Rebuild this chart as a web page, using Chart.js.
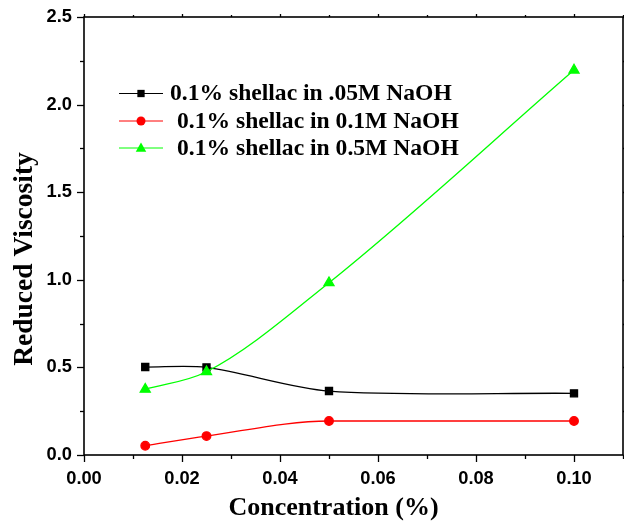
<!DOCTYPE html>
<html><head><meta charset="utf-8">
<script src="https://cdn.jsdelivr.net/npm/chart.js@4/dist/chart.umd.min.js"></script>
<style>html,body{margin:0;padding:0;background:#fff;}#wrap{width:624px;height:525px;position:relative;}</style>
</head><body><div id="wrap"><canvas id="c" width="624" height="525"></canvas></div>
<script>
// ---- data ----
const concentration = [0.0125, 0.025, 0.05, 0.1];
const visc005M = [0.502, 0.500, 0.365, 0.352];
const visc01M  = [0.053, 0.108, 0.194, 0.194];
const visc05M  = [0.375, 0.475, 0.983, 2.197];
const seriesLabels = ['0.1% shellac in .05M NaOH', '0.1% shellac in 0.1M NaOH', '0.1% shellac in 0.5M NaOH'];
const xTitle = 'Concentration (%)';
const yTitle = 'Reduced Viscosity';

const pts = ys => concentration.map((x, i) => ({x, y: ys[i]}));
const SERIF = '"Liberation Serif", "Times New Roman", serif';
const SANS = '"Liberation Sans", Arial, sans-serif';

function marker(ctx, style, x, y, color, s) {
  ctx.fillStyle = color;
  ctx.beginPath();
  if (style === 'rect') { ctx.rect(x - s / 2, y - s / 2, s, s); }
  else if (style === 'circle') { ctx.arc(x, y, s / 2, 0, Math.PI * 2); }
  else { const h = s * 0.87; ctx.moveTo(x, y - h * 0.6); ctx.lineTo(x + s / 2, y + h * 0.4); ctx.lineTo(x - s / 2, y + h * 0.4); ctx.closePath(); }
  ctx.fill();
}

const framePlugin = {
  id: 'frame',
  afterDraw(chart) {
    const {ctx, chartArea: a, scales: {x, y}} = chart;
    ctx.save();
    ctx.strokeStyle = '#000';
    ctx.lineWidth = 1.6;
    ctx.strokeRect(a.left, a.top, a.right - a.left, a.bottom - a.top);
    ctx.lineWidth = 1.3;
    const seg = (x1, y1, x2, y2) => { ctx.beginPath(); ctx.moveTo(x1, y1); ctx.lineTo(x2, y2); ctx.stroke(); };
    x.ticks.forEach(t => {
      const px = Math.round(x.getPixelForValue(t.value)) + 0.5;
      const major = t.label !== '';
      seg(px, a.bottom, px, a.bottom + (major ? 7 : 4));
      seg(px, a.top, px, a.top - (major ? 3 : 2));
    });
    y.ticks.forEach(t => {
      const py = Math.round(y.getPixelForValue(t.value)) + 0.5;
      const major = t.label !== '';
      seg(a.left, py, a.left - (major ? 7 : 4), py);
      seg(a.right, py, a.right + (major ? 3 : 2), py);
    });
    // axis titles
    ctx.fillStyle = '#000';
    ctx.font = 'bold 26px ' + SERIF;
    ctx.textAlign = 'center';
    ctx.textBaseline = 'alphabetic';
    ctx.fillText(xTitle, 333.5, 515);
    ctx.save();
    ctx.translate(31.5, 259);
    ctx.rotate(-Math.PI / 2);
    ctx.font = 'bold 27.5px ' + SERIF;
    ctx.fillText(yTitle, 0, 0);
    ctx.restore();
    // legend
    const rows = [100, 127.5, 154.5];
    const textX = [170, 177, 177];
    const sizes = [7.3, 9, 10.5];
    chart.data.datasets.forEach((ds, i) => {
      const my = rows[i] - 6.5;
      ctx.strokeStyle = ds.borderColor;
      ctx.lineWidth = 1;
      seg(119, my, 163, my);
      marker(ctx, ds.pointStyle, 141, my, ds.backgroundColor, sizes[i]);
      ctx.fillStyle = '#000';
      ctx.font = 'bold 23.6px ' + SERIF;
      ctx.textAlign = 'left';
      ctx.fillText(ds.label, textX[i], rows[i]);
    });
    ctx.restore();
  }
};

new Chart(document.getElementById('c'), {
  type: 'line',
  data: {
    datasets: [
      {label: seriesLabels[0], data: pts(visc005M), borderColor: '#000000', backgroundColor: '#000000',
       pointStyle: 'rect', pointRadius: 5, borderWidth: 1.3, order: 2,
       cubicInterpolationMode: 'default', tension: 0.3},
      {label: seriesLabels[1], data: pts(visc01M), borderColor: '#ff0000', backgroundColor: '#ff0000',
       pointStyle: 'circle', pointRadius: 4.3, borderWidth: 1.3, order: 1},
      {label: seriesLabels[2], data: pts(visc05M), borderColor: '#00ff00', backgroundColor: '#00ff00',
       pointStyle: 'triangle', pointRadius: 5.8, borderWidth: 1.3, order: 0}
    ]
  },
  options: {
    responsive: false,
    animation: false,
    devicePixelRatio: 1,
    layout: {autoPadding: false, padding: {top: 17, right: 1, left: 0, bottom: 0}},
    plugins: {legend: {display: false}, tooltip: {enabled: false}},
    elements: {line: {cubicInterpolationMode: 'monotone'}, point: {borderWidth: 1}},
    scales: {
      x: {
        type: 'linear', min: 0, max: 0.11,
        afterFit: s => { s.height = 70; s.paddingRight = 0; s.paddingLeft = 0; },
        border: {display: false},
        grid: {drawOnChartArea: false, tickLength: 7, color: 'rgba(0,0,0,0)', tickColor: 'rgba(0,0,0,0)'},
        ticks: {stepSize: 0.01, includeBounds: false, autoSkip: false, maxRotation: 0, padding: 6,
          color: '#000', font: {family: SANS, size: 18.3, weight: 'bold'},
          callback: v => { const k = Math.round(v * 100); return k % 2 === 0 && k <= 10 ? (k / 100).toFixed(2) : ''; }}
      },
      y: {
        min: 0, max: 2.5,
        afterFit: s => { s.width = 84; s.paddingTop = 0; s.paddingBottom = 0; },
        border: {display: false},
        grid: {drawOnChartArea: false, tickLength: 7, color: 'rgba(0,0,0,0)', tickColor: 'rgba(0,0,0,0)'},
        ticks: {stepSize: 0.25, autoSkip: false, padding: 5,
          color: '#000', font: {family: SANS, size: 18.3, weight: 'bold'},
          callback: v => { const k = Math.round(v * 4); return k % 2 === 0 ? (k / 4).toFixed(1) : ''; }}
      }
    }
  },
  plugins: [framePlugin]
});
</script></body></html>
